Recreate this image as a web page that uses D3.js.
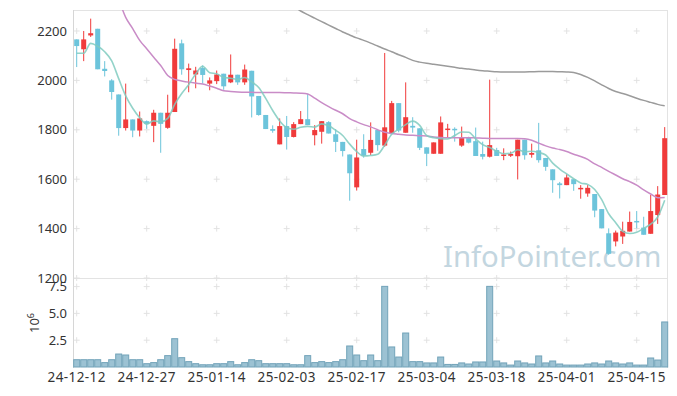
<!DOCTYPE html>
<html>
<head>
<meta charset="utf-8">
<script src="https://cdnjs.cloudflare.com/ajax/libs/d3/7.8.5/d3.min.js"></script>
<style>
  body { margin: 0; background: #fff; }
  svg text { font-family: "Noto Sans", sans-serif; }
</style>
</head>
<body>
<div id="chart"></div>
<script>
// trading days shown on the chart
var dates = ['24-12-12','24-12-13','24-12-16','24-12-17','24-12-18','24-12-19','24-12-20','24-12-23','24-12-24','24-12-26',
  '24-12-27','24-12-30','25-01-02','25-01-03','25-01-06','25-01-07','25-01-08','25-01-09','25-01-10','25-01-13',
  '25-01-14','25-01-15','25-01-16','25-01-17','25-01-20','25-01-21','25-01-22','25-01-23','25-01-24','25-01-31',
  '25-02-03','25-02-04','25-02-05','25-02-06','25-02-07','25-02-10','25-02-11','25-02-12','25-02-13','25-02-14',
  '25-02-17','25-02-18','25-02-19','25-02-20','25-02-21','25-02-24','25-02-25','25-02-26','25-02-27','25-02-28',
  '25-03-04','25-03-05','25-03-06','25-03-07','25-03-10','25-03-11','25-03-12','25-03-13','25-03-14','25-03-17',
  '25-03-18','25-03-19','25-03-20','25-03-21','25-03-24','25-03-25','25-03-26','25-03-27','25-03-28','25-03-31',
  '25-04-01','25-04-02','25-04-03','25-04-04','25-04-07','25-04-08','25-04-09','25-04-10','25-04-11','25-04-14',
  '25-04-15','25-04-16','25-04-17','25-04-18','25-04-21'];

var openP = [2166,2126,2182,2209,2047,2000,1943,1807,1842,1797,
  1835,1816,1869,1808,1872,2150,2042,2024,2050,1987,
  1997,2027,1992,2023,1992,2039,1937,1860,1803,1741,
  1815,1771,1823,1843,1778,1792,1831,1782,1751,1700,
  1567,1722,1707,1799,1736,1786,1908,1788,1816,1806,
  1729,1703,1703,1801,1804,1736,1770,1754,1702,1691,
  1718,1695,1695,1693,1760,1699,1717,1686,1640,1583,
  1576,1600,1560,1542,1540,1479,1381,1348,1368,1388,
  1431,1404,1379,1455,1536];

var highP = [2166,2200,2250,2209,2078,2005,1943,1987,1842,1874,
  1838,1881,1869,1942,2169,2165,2068,2055,2061,2012,
  2040,2027,2105,2023,2064,2039,1937,1860,1818,1846,
  1856,1831,1876,1946,1819,1835,1835,1803,1751,1700,
  1760,1782,1830,1799,2111,1917,1908,1992,1851,1806,
  1729,1749,1854,1824,1810,1813,1772,1809,1752,2003,
  1727,1725,1712,1760,1760,1744,1828,1686,1640,1589,
  1620,1600,1576,1576,1540,1479,1401,1392,1428,1469,
  1471,1448,1536,1572,1811];

var lowP = [2054,2078,2176,2045,2016,1922,1776,1797,1770,1773,
  1804,1750,1707,1804,1872,2023,1952,1968,1987,1960,
  1985,1962,1989,1982,1982,1850,1857,1803,1788,1741,
  1720,1769,1823,1819,1737,1744,1785,1710,1692,1513,
  1554,1687,1698,1715,1731,1786,1790,1788,1788,1718,
  1653,1703,1703,1770,1752,1731,1745,1694,1680,1688,
  1694,1677,1690,1599,1679,1687,1667,1634,1545,1522,
  1576,1553,1521,1529,1446,1401,1294,1328,1338,1388,
  1401,1375,1379,1419,1536];

var closeP = [2139,2166,2191,2045,2038,1953,1807,1842,1797,1846,
  1824,1869,1824,1869,2128,2045,2049,2040,2022,2000,
  2024,1976,2023,1992,2044,1935,1860,1803,1796,1815,
  1771,1823,1843,1819,1799,1835,1785,1751,1714,1624,
  1688,1695,1759,1738,1810,1908,1797,1851,1809,1727,
  1703,1749,1830,1805,1799,1770,1748,1694,1691,1738,
  1694,1700,1702,1760,1697,1706,1677,1650,1596,1576,
  1607,1580,1565,1565,1473,1401,1298,1384,1391,1427,
  1426,1375,1471,1538,1766];

// volume, millions of shares
var volume = [0.68,0.68,0.68,0.68,0.41,0.68,1.21,1.12,0.68,0.68,
  0.31,0.41,0.68,1.06,2.64,0.87,0.50,0.31,0.21,0.21,
  0.31,0.31,0.50,0.21,0.41,0.68,0.59,0.31,0.31,0.31,
  0.31,0.21,0.21,1.06,0.41,0.50,0.41,0.50,0.68,1.96,
  1.12,0.59,1.12,0.59,7.52,1.87,0.93,3.17,0.50,0.50,
  0.38,0.38,0.93,0.24,0.24,0.38,0.28,0.47,0.47,7.52,
  0.56,0.38,0.18,0.56,0.38,0.28,1.03,0.38,0.56,0.28,
  0.18,0.18,0.18,0.28,0.38,0.28,0.56,0.38,0.28,0.38,
  0.18,0.18,0.84,0.65,4.20];

// moving averages (null = not shown)
var ma5 = [2110,2110,2150,2138,2116,2079,2007,1937,1887,1849,
  1823,1836,1832,1846,1903,1947,1983,2026,2057,2031,
  2027,2012,2009,2003,2012,1994,1971,1927,1878,1836,
  1809,1802,1810,1814,1811,1824,1816,1798,1777,1742,
  1712,1694,1696,1701,1738,1782,1802,1821,1835,1818,
  1777,1768,1764,1763,1777,1791,1790,1763,1740,1728,
  1713,1703,1705,1719,1711,1713,1708,1698,1665,1641,
  1621,1602,1585,1579,1558,1517,1460,1424,1389,1380,
  1385,1401,1418,1447,1515];

var ma20 = [null,null,null,null,null,null,2330,2255,2210,2162,
  2128,2094,2060,2020,2004,1998,1993,1989,1985,1977,
  1968,1958,1955,1953,1952,1952,1951,1951,1951,1951,
  1950,1949,1948,1945,1928,1910,1894,1879,1865,1845,
  1832,1821,1812,1800,1790,1785,1782,1779,1778,1776,
  1775,1771,1769,1768,1768,1768,1768,1767,1766,1765,
  1765,1765,1765,1765,1764,1758,1746,1735,1726,1720,
  1712,1701,1692,1680,1662,1648,1632,1617,1602,1590,
  1576,1557,1540,1525,1526];

var ma60 = [null,null,null,null,null,null,null,null,null,null,
  null,null,null,null,null,null,null,null,null,null,
  null,null,null,null,null,null,null,null,null,null,
  2320,2300,2281,2266,2252,2238,2224,2210,2196,2184,
  2172,2162,2151,2139,2127,2116,2104,2093,2081,2074,
  2069,2065,2061,2057,2053,2049,2046,2042,2039,2037,
  2035,2034,2034,2034,2034,2035,2036,2036,2036,2035,
  2034,2032,2024,2012,1998,1982,1967,1955,1947,1938,
  1928,1919,1911,1903,1897];

var priceTicks = [1200, 1400, 1600, 1800, 2000, 2200];
var volTicks = [2.5, 5, 7.5];
var dateTicks = dates.filter(function (d, i) { return i % 10 === 0; });

var upColor = '#f03b3b';
var downColor = '#6cc4db';

var svg = d3.select('#chart').append('svg')
  .attr('width', 677)
  .attr('height', 396);

var x = d3.scaleBand().domain(dates).range([73.2, 668.2]);
var yP = d3.scaleLinear().domain([1200, 2285]).range([278, 10]);
var yV = d3.scaleLinear().domain([0, 8.3]).range([367, 278]);
var cx = function (i) { return x(dates[i]) + x.bandwidth() / 2; };

svg.append('defs').append('clipPath').attr('id', 'priceClip')
  .append('rect').attr('x', 73).attr('y', 10).attr('width', 595).attr('height', 268);

// frame
var frame = svg.append('g').attr('stroke', '#e3e3e3').attr('stroke-width', 1);
frame.append('line').attr('x1', 73).attr('x2', 668).attr('y1', 10.5).attr('y2', 10.5);
frame.append('line').attr('x1', 73).attr('x2', 668).attr('y1', 278.5).attr('y2', 278.5);
frame.append('line').attr('x1', 73.5).attr('x2', 73.5).attr('y1', 10).attr('y2', 368).attr('stroke', '#d6d6d6');
frame.append('line').attr('x1', 667.5).attr('x2', 667.5).attr('y1', 10).attr('y2', 368);

// little cross marks where grid lines would meet
var crossRows = priceTicks.map(function (t) { return yP(t); })
  .concat(volTicks.map(function (t) { return yV(t); }));
var crosses = [];
dateTicks.forEach(function (d) {
  crossRows.forEach(function (ry) { crosses.push([x(d) + x.bandwidth() / 2, ry]); });
});
svg.append('g').selectAll('path').data(crosses).enter().append('path')
  .attr('d', function (c) { return 'M' + (c[0] - 3) + ',' + c[1] + 'h6M' + c[0] + ',' + (c[1] - 3) + 'v6'; })
  .attr('stroke', '#e2e2e2')
  .attr('stroke-width', 1)
  .attr('fill', 'none');

// watermark
svg.append('text')
  .attr('x', 443)
  .attr('y', 267)
  .attr('font-size', 29.3)
  .attr('fill', '#c3d6e0')
  .text('InfoPointer.com');

// volume bars
svg.append('g').selectAll('rect').data(volume).enter().append('rect')
  .attr('x', function (v, i) { return x(dates[i]) + 0.5; })
  .attr('y', function (v) { return yV(v); })
  .attr('width', x.bandwidth() - 1)
  .attr('height', function (v) { return yV(0) - yV(v); })
  .attr('fill', '#9cc2d3')
  .attr('stroke', '#72a3b9')
  .attr('stroke-width', 1);

// candles
var candles = svg.append('g').attr('clip-path', 'url(#priceClip)');
var idx = d3.range(dates.length);
candles.selectAll('line').data(idx).enter().append('line')
  .attr('x1', cx).attr('x2', cx)
  .attr('y1', function (i) { return yP(highP[i]); })
  .attr('y2', function (i) { return yP(lowP[i]); })
  .attr('stroke', function (i) { return closeP[i] >= openP[i] ? upColor : downColor; })
  .attr('stroke-width', 1);

candles.selectAll('rect').data(idx).enter().append('rect')
  .attr('x', function (i) { return cx(i) - 2.5; })
  .attr('width', 5)
  .attr('y', function (i) { return yP(Math.max(openP[i], closeP[i])); })
  .attr('height', function (i) { return Math.max(1.5, Math.abs(yP(openP[i]) - yP(closeP[i]))); })
  .attr('fill', function (i) { return closeP[i] >= openP[i] ? upColor : downColor; });

// moving average lines
var maLine = d3.line()
  .defined(function (v) { return v != null; })
  .x(function (v, i) { return cx(i); })
  .y(function (v) { return yP(v); })
  .curve(d3.curveMonotoneX);

var lines = svg.append('g').attr('clip-path', 'url(#priceClip)').attr('fill', 'none');
lines.append('path').attr('d', maLine(ma60)).attr('stroke', '#9b9b9b').attr('stroke-width', 1.5);
lines.append('path').attr('d', maLine(ma20)).attr('stroke', '#c98cc7').attr('stroke-width', 1.5);
lines.append('path').attr('d', maLine(ma5)).attr('stroke', '#80cbbf').attr('stroke-width', 1.6).attr('opacity', 0.85);

// axes
function styleAxis(g) {
  g.select('.domain').remove();
  g.selectAll('.tick line').remove();
  g.selectAll('text').attr('fill', '#333').attr('font-size', 13).attr('font-family', '"Noto Sans", sans-serif');
}

svg.append('g').attr('transform', 'translate(73,0)')
  .call(d3.axisLeft(yP).tickValues(priceTicks).tickSize(0).tickPadding(6).tickFormat(d3.format('d')))
  .call(styleAxis);

svg.append('g').attr('transform', 'translate(73,0)')
  .call(d3.axisLeft(yV).tickValues(volTicks).tickSize(0).tickPadding(6).tickFormat(d3.format('.1f')))
  .call(styleAxis);

svg.append('g').attr('transform', 'translate(0,367)')
  .call(d3.axisBottom(x).tickValues(dateTicks).tickSize(0).tickPadding(5))
  .call(styleAxis)
  .selectAll('text').attr('font-size', 13.5).attr('letter-spacing', 0.4);

// volume unit label
var unit = svg.append('text')
  .attr('transform', 'translate(39,323) rotate(-90)')
  .attr('text-anchor', 'middle')
  .attr('fill', '#333')
  .attr('font-size', 13)
  .text('10');
unit.append('tspan').attr('dy', -5).attr('font-size', 9).text('6');
</script>
</body>
</html>
